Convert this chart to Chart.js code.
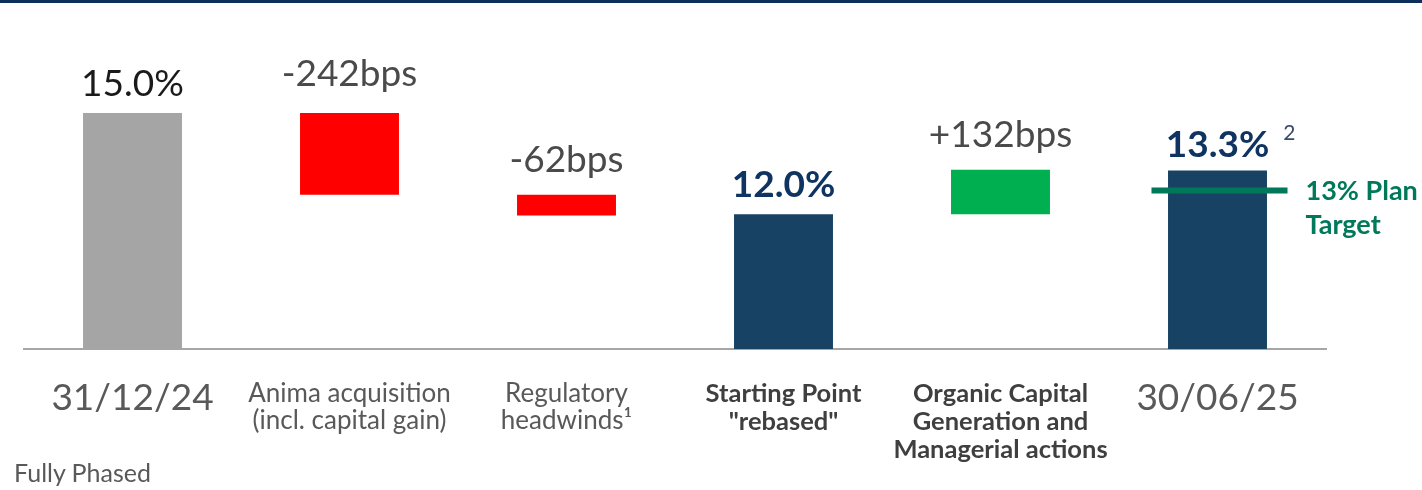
<!DOCTYPE html>
<html>
<head>
<meta charset="utf-8">
<script src="https://cdn.jsdelivr.net/npm/chart.js@4.4.1/dist/chart.umd.min.js"></script>
<style>
  html, body { margin: 0; padding: 0; background: #fff; }
  body { width: 1422px; height: 490px; position: relative; overflow: hidden; }
  .topline { position: absolute; left: 0; top: 0; width: 1422px; height: 3px; background: #0d2f5c; }
  #wrap { position: absolute; left: 0; top: 0; width: 1422px; height: 490px; }
  .foot { position: absolute; left: 14px; top: 457px; font: 25px Lato, sans-serif; color: #595959; }
</style>
</head>
<body>
<div class="topline"></div>
<div id="wrap"><canvas id="waterfall"></canvas></div>
<div class="foot">Fully Phased</div>
<script>
// categorie e valori (CET1 ratio, in %)
const categories = [
  ['31/12/24'],
  ['Anima acquisition', '(incl. capital gain)'],
  ['Regulatory', 'headwinds\u00B9'],
  ['Starting Point', '"rebased"'],
  ['Organic Capital', 'Generation and', 'Managerial actions'],
  ['30/06/25']
];
const steps = [15.0, -2.42, -0.62, 12.0, 1.32, 13.3];
const isTotal = [true, false, false, true, false, true];
const valueLabels = ['15.0%', '-242bps', '-62bps', '12.0%', '+132bps', '13.3%'];
const labelNotes = ['', '', '', '', '', '2'];
const planTarget = 12.7;
const planLabel = ['13% Plan', 'Target'];

// distanza tra etichetta e barra (px)
const labelGap = [17, 27, 23, 17, 23, 13];

// costruisce le barre flottanti del waterfall
const ranges = [];
let running = 0;
steps.forEach((v, i) => {
  if (isTotal[i]) {
    ranges.push([0, v]);
    running = v;
  } else {
    ranges.push([running, running + v]);
    running = running + v;
  }
});

const barColors = steps.map((v, i) => {
  if (i === 0) return '#a5a5a5';
  if (isTotal[i]) return '#174263';
  return v < 0 ? '#ff0000' : '#00b050';
});

// etichette sopra le barre + linea obiettivo
const overlay = {
  id: 'overlay',
  afterDatasetsDraw(chart) {
    const ctx = chart.ctx;
    const meta = chart.getDatasetMeta(0);
    ctx.save();
    meta.data.forEach((bar, i) => {
      const top = Math.min(bar.y, bar.base);
      const bold = isTotal[i] && i > 0;
      ctx.font = bold ? 'bold 37px Lato, sans-serif' : '37px Lato, sans-serif';
      ctx.fillStyle = bold ? '#0f3461' : (i === 0 ? '#1a1a1a' : '#4a4a4a');
      ctx.textAlign = 'center';
      ctx.textBaseline = 'alphabetic';
      const y = top - labelGap[i];
      ctx.fillText(valueLabels[i], bar.x, y);
      if (labelNotes[i]) {
        const w = ctx.measureText(valueLabels[i]).width;
        ctx.font = '21px Lato, sans-serif';
        ctx.textAlign = 'left';
        ctx.fillStyle = '#3b4a66';
        ctx.fillText(labelNotes[i], bar.x + w / 2 + 14, y - 17);
      }
    });

    const xs = chart.scales.x;
    const ys = chart.scales.y;
    const cx = xs.getPixelForValue(5);
    const ty = ys.getPixelForValue(planTarget);
    ctx.strokeStyle = '#00785a';
    ctx.lineWidth = 6;
    ctx.beginPath();
    ctx.moveTo(cx - 66, ty);
    ctx.lineTo(cx + 70, ty);
    ctx.stroke();
    ctx.fillStyle = '#00785a';
    ctx.font = 'bold 27px Lato, sans-serif';
    ctx.textAlign = 'left';
    ctx.textBaseline = 'middle';
    planLabel.forEach((t, k) => ctx.fillText(t, cx + 88, ty + 1 + k * 34));
    ctx.restore();
  }
};

const tickFonts = [
  { family: 'Lato, sans-serif', size: 37, lineHeight: 1.0 },
  { family: 'Lato, sans-serif', size: 26, lineHeight: 1.05 },
  { family: 'Lato, sans-serif', size: 26, lineHeight: 1.05 },
  { family: 'Lato, sans-serif', size: 25.5, weight: 'bold', lineHeight: 1.1 },
  { family: 'Lato, sans-serif', size: 25.5, weight: 'bold', lineHeight: 1.1 },
  { family: 'Lato, sans-serif', size: 37, lineHeight: 1.0 }
];

new Chart(document.getElementById('waterfall'), {
  type: 'bar',
  data: {
    labels: categories,
    datasets: [{
      data: ranges,
      backgroundColor: barColors,
      borderWidth: 0,
      barPercentage: 1,
      categoryPercentage: 0.456
    }]
  },
  options: {
    responsive: true,
    maintainAspectRatio: false,
    animation: false,
    layout: { padding: { left: 24, right: 96, top: 12, bottom: 0 } },
    plugins: { legend: { display: false }, tooltip: { enabled: false } },
    scales: {
      x: {
        grid: { display: false, drawTicks: false },
        border: { display: true, color: '#a6a6a6', width: 2 },
        afterFit: (scale) => { scale.height = 141; },
        ticks: {
          padding: 31,
          autoSkip: false,
          maxRotation: 0,
          font: (c) => tickFonts[c.index],
          color: (c) => (c.index === 3 || c.index === 4) ? '#3f3f3f' : '#595959'
        }
      },
      y: { display: false, min: 8, max: 18 }
    }
  },
  plugins: [overlay]
});
</script>
</body>
</html>
